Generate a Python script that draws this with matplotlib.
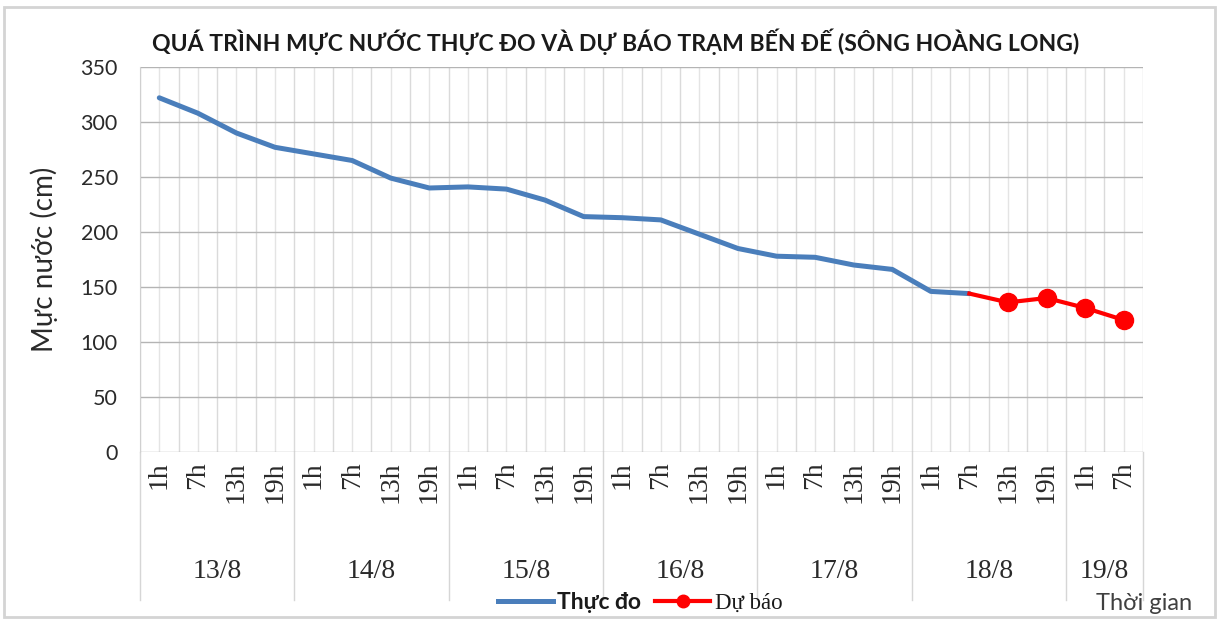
import matplotlib
matplotlib.use("Agg")
import matplotlib.pyplot as plt
from matplotlib.patches import Rectangle
from matplotlib.lines import Line2D
import matplotlib.transforms as mtransforms

# ---- data ----
hours = ["1h", "7h", "13h", "19h"] * 6 + ["1h", "7h"]
days = ["13/8", "14/8", "15/8", "16/8", "17/8", "18/8", "19/8"]
day_sizes = [4, 4, 4, 4, 4, 4, 2]
observed = [322, 308, 290, 277, 271, 265, 249, 240,
            241, 239, 229, 214, 213, 211, 198, 185,
            178, 177, 170, 166, 146, 144]
forecast_start = 21
forecast = [144, 136, 140, 131, 120]

title = "QUÁ TRÌNH MỰC NƯỚC THỰC ĐO VÀ DỰ BÁO TRẠM BẾN ĐẾ (SÔNG HOÀNG LONG)"
ylabel = "Mực nước (cm)"
xlabel = "Thời gian"
yticks = [0, 50, 100, 150, 200, 250, 300, 350]

SANS = ["Lato", "DejaVu Sans"]
SERIF = ["Liberation Serif", "DejaVu Serif"]
TXT = "#2a2a2a"

W, H = 1220, 619
fig = plt.figure(figsize=(W / 100, H / 100), dpi=100)
fig.patch.set_facecolor("white")
fig.add_artist(Rectangle((4 / W, 2 / H), 1 - 9 / W, 1 - 9 / H, transform=fig.transFigure,
                         fill=False, edgecolor="#d4d4d4", lw=2.0))

L, R, T, B = 140, 1143, 67, 452
ax = fig.add_axes([L / W, 1 - B / H, (R - L) / W, (B - T) / H])

n = len(hours)
x = list(range(n))
ax.plot(x[:len(observed)], observed, color="#4A7EBB", lw=3.6, solid_capstyle="round",
        solid_joinstyle="round", zorder=3, label="Thực đo")
fx = list(range(forecast_start, forecast_start + len(forecast)))
ax.plot(fx, forecast, color="#FF0000", lw=3.0, marker="o", markersize=13,
        markevery=list(range(1, len(forecast))), zorder=4, label="Dự báo")

ax.set_xlim(-0.5, n - 0.5)
ax.set_ylim(0, 350)
ax.set_yticks(yticks)
ax.set_xticks(x)
ax.set_xticklabels(hours, rotation=90, family=SERIF, fontsize=20, color=TXT)
ax.set_xticks([i - 0.5 for i in range(n + 1)], minor=True)
ax.tick_params(axis="x", which="both", length=0, pad=7)
ax.tick_params(axis="y", length=0, pad=16, labelsize=15.5, labelcolor=TXT)
for lab in ax.get_yticklabels():
    lab.set_family(SANS)

ax.grid(axis="y", color="#b4b4b4", lw=1.0)
ax.grid(axis="x", which="major", color="#e4e4e4", lw=1.0)
ax.grid(axis="x", which="minor", color="#dadada", lw=1.0)
for s in ["top", "right", "bottom"]:
    ax.spines[s].set_visible(False)
ax.spines["left"].set_color("#d0d0d0")
ax.set_axisbelow(True)

# multi-level category axis
trans = mtransforms.blended_transform_factory(ax.transData, ax.transAxes)
sep_bottom = -(600 - B) / (B - T)
date_y = -(572 - B) / (B - T)
pos = -0.5
edges = [pos]
for d, sz in zip(days, day_sizes):
    ax.text(pos + sz / 2, date_y, d, transform=trans, ha="center", va="center",
            family=SERIF, fontsize=20, color=TXT)
    pos += sz
    edges.append(pos)
for e in edges:
    ax.plot([e, e], [0, sep_bottom], transform=trans, color="#d6d6d6", lw=1.0, clip_on=False)

ax.set_ylabel(ylabel, family=SANS, fontsize=20, color=TXT)
ax.yaxis.set_label_coords(-(L - 58) / (R - L), 0.5)

fig.text(616 / W, 1 - 42 / H, title, ha="center", va="center", family=SANS,
         fontsize=16.6, fontweight="bold", color="#1a1a1a")

fig.text(1192 / W, 1 - 604 / H, xlabel, ha="right", va="center", family=SANS,
         fontsize=17, color="#404040")

handles = [Line2D([], [], color="#4A7EBB", lw=3.6),
           Line2D([], [], color="#FF0000", lw=3.0, marker="o", markersize=9)]
leg = fig.legend(handles, ["Thực đo", "Dự báo"], loc="center", bbox_to_anchor=(640 / W, 1 - 603 / H),
                 ncol=2, frameon=False, fontsize=16.5, handlelength=2.4, handletextpad=0.2,
                 columnspacing=0.6, borderpad=0)
t0, t1 = leg.get_texts()
t0.set_family(SANS); t0.set_fontweight("bold"); t0.set_color("#1a1a1a")
t1.set_family(SERIF); t1.set_color("#1a1a1a")

fig.savefig("out.png", dpi=100)
